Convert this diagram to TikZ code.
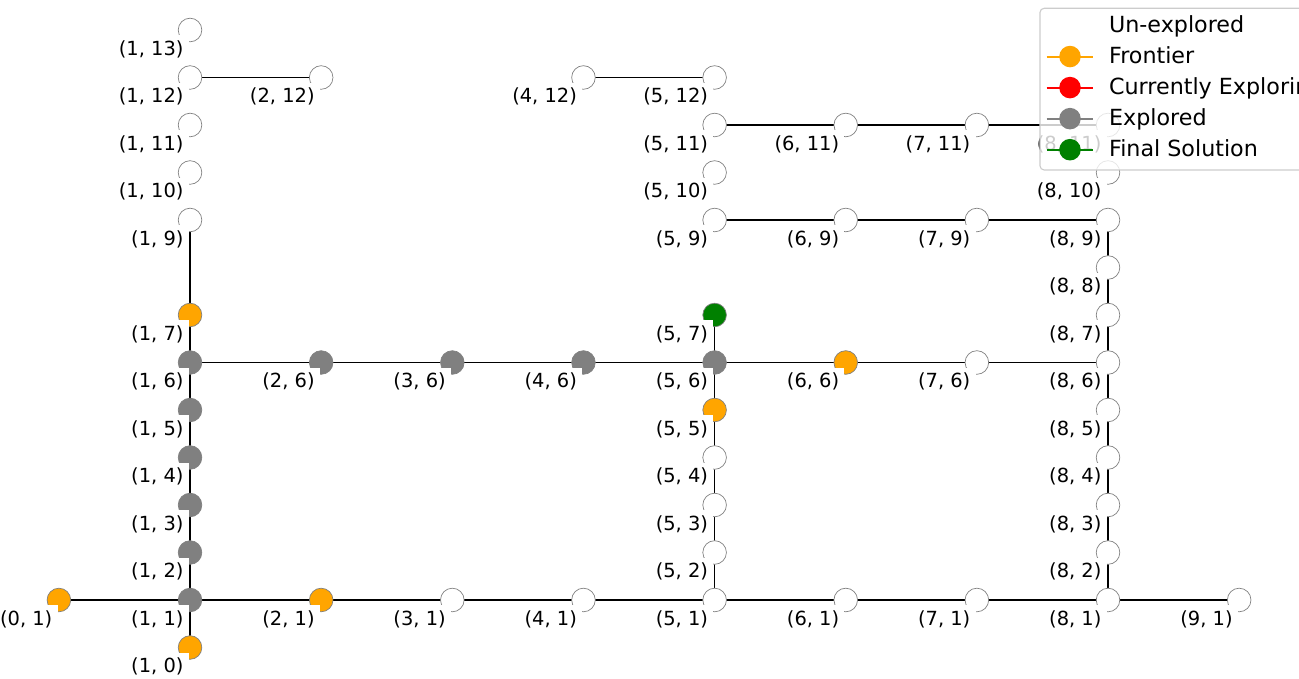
\documentclass[tikz,border=0pt]{standalone}
\usepackage{fontspec}
\setmainfont{DejaVu Sans}
\usetikzlibrary{backgrounds}
\definecolor{orangeC}{HTML}{FFA500}
\definecolor{grayC}{HTML}{808080}
\definecolor{greenC}{HTML}{008000}
\definecolor{redC}{HTML}{FF0000}
\begin{document}
\begin{tikzpicture}[x=0.72pt,y=-0.72pt,
  vtx/.style={circle,minimum size=17pt,inner sep=0pt,line width=0.5pt,draw=gray},
  unx/.style={vtx,fill=white},
  fro/.style={vtx,fill=orangeC},
  exd/.style={vtx,fill=grayC},
  fin/.style={vtx,fill=greenC},
  edgeline/.style={line width=1pt,black},
  lbl/.style={anchor=north east,fill=white,inner sep=3.8pt,font=\fontsize{14}{17}\selectfont},
  legtxt/.style={anchor=base west,inner sep=0pt,font=\fontsize{16}{19}\selectfont},
  legline/.style={line width=1.5pt},
  legmark/.style={circle,minimum size=15.5pt,inner sep=0pt},
]
\useasboundingbox (0,0) rectangle (1299,679);
% nodes
\foreach \c/\r/\s in {
  0/1/fro,1/0/fro,2/1/fro,1/7/fro,5/5/fro,6/6/fro,
  1/1/exd,1/2/exd,1/3/exd,1/4/exd,1/5/exd,1/6/exd,2/6/exd,3/6/exd,4/6/exd,5/6/exd,
  5/7/fin,
  3/1/unx,4/1/unx,5/1/unx,6/1/unx,7/1/unx,8/1/unx,9/1/unx,
  5/2/unx,5/3/unx,5/4/unx,
  8/2/unx,8/3/unx,8/4/unx,8/5/unx,8/6/unx,8/7/unx,8/8/unx,8/9/unx,8/10/unx,8/11/unx,
  7/6/unx,5/9/unx,6/9/unx,7/9/unx,5/10/unx,5/11/unx,6/11/unx,7/11/unx,
  4/12/unx,5/12/unx,1/9/unx,1/10/unx,1/11/unx,1/12/unx,1/13/unx,2/12/unx}
  \node[\s] (n\c-\r) at ({58.9+131.14*\c},{647.5-47.5*\r}) {};
% labels
\foreach \c/\r in {
  0/1,1/0,2/1,1/7,5/5,6/6,
  1/1,1/2,1/3,1/4,1/5,1/6,2/6,3/6,4/6,5/6,
  5/7,
  3/1,4/1,5/1,6/1,7/1,8/1,9/1,
  5/2,5/3,5/4,
  8/2,8/3,8/4,8/5,8/6,8/7,8/8,8/9,8/10,8/11,
  7/6,5/9,6/9,7/9,5/10,5/11,6/11,7/11,
  4/12,5/12,1/9,1/10,1/11,1/12,1/13,2/12}
  \node[lbl] (l\c-\r) at ({58.9+131.14*\c-1},{647.5-47.5*\r+5}) {(\c, \r)};
% edges
\begin{pgfonlayer}{background}
\foreach \a/\b in {
  0-1/1-1,1-1/2-1,2-1/3-1,3-1/4-1,4-1/5-1,5-1/6-1,6-1/7-1,7-1/8-1,8-1/9-1,
  1-0/1-1,1-1/1-2,1-2/1-3,1-3/1-4,1-4/1-5,1-5/1-6,1-6/1-7,1-7/1-9,
  1-6/2-6,2-6/3-6,3-6/4-6,4-6/5-6,5-6/6-6,6-6/7-6,7-6/8-6,
  5-1/5-2,5-2/5-3,5-3/5-4,5-4/5-5,5-5/5-6,5-6/5-7,
  8-1/8-2,8-2/8-3,8-3/8-4,8-4/8-5,8-5/8-6,8-6/8-7,8-7/8-8,8-8/8-9,
  5-9/6-9,6-9/7-9,7-9/8-9,
  5-11/6-11,6-11/7-11,7-11/8-11,
  4-12/5-12,1-12/2-12}
  \draw[edgeline] (n\a.center) -- (n\b.center);
\end{pgfonlayer}
% legend
\draw[draw=black!20,line width=0.8pt,fill=white,fill opacity=0.8,rounded corners=3pt]
  (1040,8.3) rectangle (1340,170);
\node[legtxt] (t0) at (1108.8,{25.5+7.3}) {Un-explored};
\foreach \i/\col/\t in {1/orangeC/Frontier,2/redC/Currently Exploring,3/grayC/Explored,4/greenC/Final Solution}{
  \draw[legline,\col] (1046.7,{25.5+31.05*\i}) -- (1093.3,{25.5+31.05*\i});
  \node[legmark,fill=\col] (m\i) at (1070,{25.5+31.05*\i}) {};
  \node[legtxt] (t\i) at (1108.8,{25.5+31.05*\i+7.3}) {\t};
}
\end{tikzpicture}
\end{document}
